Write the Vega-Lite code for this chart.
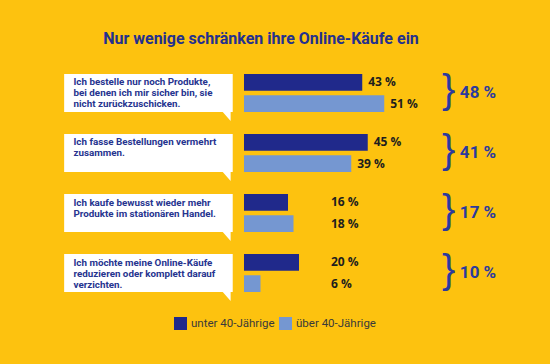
{
  "$schema": "https://vega.github.io/schema/vega-lite/v6.json",
  "width": 550,
  "height": 246,
  "autosize": "none",
  "padding": {"top": 60, "bottom": 58, "left": 0, "right": 0},
  "background": "#FDC20F",
  "title": {
    "text": "Nur wenige schränken ihre Online-Käufe ein",
    "fontSize": 16,
    "font": "Roboto",
    "fontWeight": "bold",
    "color": "#24308E",
    "anchor": "middle",
    "dx": -14,
    "offset": 13
  },
  "config": {
    "view": {"stroke": null},
    "legend": {
      "orient": "bottom",
      "direction": "horizontal",
      "title": null,
      "symbolType": "square",
      "symbolSize": 169,
      "symbolStrokeWidth": 0,
      "labelFont": "Roboto",
      "labelFontSize": 11.5,
      "labelColor": "#3A3A3A",
      "labelOffset": 4,
      "columnPadding": 4,
      "offset": 11,
      "layout": {"bottom": {"anchor": "middle"}}
    }
  },
  "datasets": {
    "bars": [
      {"q": "1", "gruppe": "unter 40-Jährige", "value": 43},
      {"q": "1", "gruppe": "über 40-Jährige", "value": 51},
      {"q": "2", "gruppe": "unter 40-Jährige", "value": 45},
      {"q": "2", "gruppe": "über 40-Jährige", "value": 39},
      {"q": "3", "gruppe": "unter 40-Jährige", "value": 16},
      {"q": "3", "gruppe": "über 40-Jährige", "value": 18},
      {"q": "4", "gruppe": "unter 40-Jährige", "value": 20},
      {"q": "4", "gruppe": "über 40-Jährige", "value": 6}
    ],
    "fragen": [
      {"q": "1", "aussage": "Ich bestelle nur noch Produkte,\nbei denen ich mir sicher bin, sie\nnicht zurückzuschicken.", "gesamt": 48},
      {"q": "2", "aussage": "Ich fasse Bestellungen vermehrt\nzusammen.", "gesamt": 41},
      {"q": "3", "aussage": "Ich kaufe bewusst wieder mehr\nProdukte im stationären Handel.", "gesamt": 17},
      {"q": "4", "aussage": "Ich möchte meine Online-Käufe\nreduzieren oder komplett darauf\nverzichten.", "gesamt": 10}
    ]
  },
  "layer": [
    {
      "data": {"name": "fragen"},
      "mark": {"type": "rect", "color": "white"},
      "encoding": {
        "x": {"datum": -65.4, "type": "quantitative", "scale": {"domain": [-88.727, 111.273], "nice": false, "zero": false}, "axis": null},
        "x2": {"datum": -4.1},
        "y": {"field": "q", "type": "nominal", "axis": null, "scale": {"paddingInner": 0.3667, "paddingOuter": 0.2333}}
      }
    },
    {
      "data": {"name": "fragen"},
      "mark": {"type": "point", "filled": true, "color": "white", "opacity": 1, "shape": "M-1,-0.3 L1,-0.3 L1,2 Z", "size": 81},
      "encoding": {
        "x": {"datum": -6.5, "type": "quantitative"},
        "y": {"field": "q", "type": "nominal", "bandPosition": 1}
      }
    },
    {
      "data": {"name": "fragen"},
      "mark": {"type": "text", "align": "left", "baseline": "top", "dy": 3.5, "lineBreak": "\n", "lineHeight": 11, "font": "Roboto", "fontSize": 9.8, "fontWeight": "bold", "color": "#26348F"},
      "encoding": {
        "x": {"datum": -62, "type": "quantitative"},
        "y": {"field": "q", "type": "nominal", "bandPosition": 0},
        "text": {"field": "aussage"}
      }
    },
    {
      "data": {"name": "bars"},
      "mark": {"type": "bar"},
      "encoding": {
        "x": {"field": "value", "type": "quantitative"},
        "y": {"field": "q", "type": "nominal"},
        "yOffset": {"field": "gruppe", "type": "nominal", "sort": ["unter 40-Jährige", "über 40-Jährige"], "scale": {"paddingInner": 0.22}},
        "color": {"field": "gruppe", "type": "nominal", "sort": ["unter 40-Jährige", "über 40-Jährige"], "scale": {"domain": ["unter 40-Jährige", "über 40-Jährige"], "range": ["#20298B", "#7597D1"]}}
      }
    },
    {
      "data": {"name": "bars"},
      "transform": [
        {"calculate": "max(datum.value, 29.45)", "as": "labelX"},
        {"calculate": "datum.value + ' %'", "as": "label"}
      ],
      "mark": {"type": "text", "align": "left", "baseline": "middle", "dx": 6, "font": "Open Sans", "fontSize": 12, "fontWeight": "bold", "color": "#1E1E1E"},
      "encoding": {
        "x": {"field": "labelX", "type": "quantitative"},
        "y": {"field": "q", "type": "nominal"},
        "yOffset": {"field": "gruppe", "type": "nominal", "sort": ["unter 40-Jährige", "über 40-Jährige"]},
        "text": {"field": "label"}
      }
    },
    {
      "data": {"name": "fragen"},
      "mark": {"type": "text", "align": "left", "baseline": "middle", "font": "Liberation Sans", "fontSize": 40, "color": "#2B3A9E", "dy": -2},
      "encoding": {
        "x": {"datum": 72.0, "type": "quantitative"},
        "y": {"field": "q", "type": "nominal"},
        "text": {"value": "}"}
      }
    },
    {
      "data": {"name": "fragen"},
      "transform": [{"calculate": "datum.gesamt + ' %'", "as": "gesamtLabel"}],
      "mark": {"type": "text", "align": "left", "baseline": "middle", "font": "Roboto", "fontSize": 17, "fontWeight": "bold", "color": "#2B3A9E"},
      "encoding": {
        "x": {"datum": 78.5, "type": "quantitative"},
        "y": {"field": "q", "type": "nominal"},
        "text": {"field": "gesamtLabel"}
      }
    }
  ]
}
